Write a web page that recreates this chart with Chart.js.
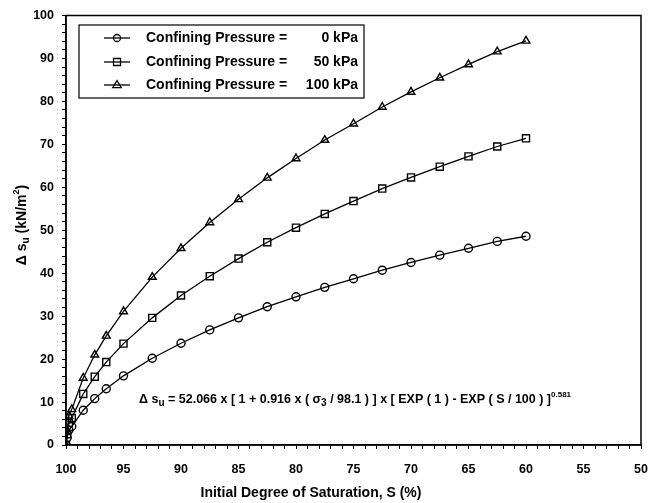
<!DOCTYPE html>
<html>
<head>
<meta charset="utf-8">
<script src="https://cdn.jsdelivr.net/npm/chart.js@4"></script>
<style>
  body { margin: 0; background: #fff; }
  #wrap { width: 662px; height: 503px; }
</style>
</head>
<body>
<div id="wrap"><canvas id="chart" width="662" height="503"></canvas></div>
<script>
// initial degree of saturation S (%)
var saturation = [100, 99.9, 99.75, 99.5, 98.5, 97.5, 96.5, 95, 92.5, 90, 87.5, 85, 82.5, 80, 77.5, 75, 72.5, 70, 67.5, 65, 62.5, 60];
// change in undrained shear strength (kN/m2)
var su0kPa = [0, 1.7, 3.5, 4.3, 8.1, 10.8, 13.1, 16.1, 20.2, 23.7, 26.8, 29.6, 32.2, 34.5, 36.7, 38.7, 40.7, 42.5, 44.2, 45.8, 47.4, 48.6];
var su50kPa = [0, 2.5, 5.1, 6.3, 11.9, 15.9, 19.3, 23.6, 29.6, 34.8, 39.3, 43.4, 47.2, 50.6, 53.8, 56.8, 59.7, 62.3, 64.8, 67.2, 69.5, 71.4];
var su100kPa = [0, 3.2, 6.8, 8.3, 15.6, 21.0, 25.4, 31.1, 39.1, 45.8, 51.8, 57.2, 62.2, 66.7, 71.0, 74.8, 78.7, 82.2, 85.5, 88.6, 91.6, 94.1];
var seriesNames = ['0 kPa', '50 kPa', '100 kPa'];
var markers = ['circle', 'rect', 'triangle'];

function pts(ys) {
    return saturation.map(function(s, i) { return {x: s, y: ys[i]}; });
}

var FONT = '"Liberation Sans", Arial, sans-serif';

function makeSet(label, ys, style, r) {
    return {
        label: label,
        data: pts(ys),
        borderColor: '#000',
        borderWidth: 1.3,
        pointStyle: style,
        pointRadius: r,
        pointBorderColor: '#000',
        pointBackgroundColor: 'rgba(0,0,0,0)',
        pointBorderWidth: 1.4,
        tension: 0,
        fill: false
    };
}

function drawMarker(ctx, style, x, y, r) {
    ctx.beginPath();
    if (style === 'circle') {
        ctx.arc(x, y, r, 0, Math.PI * 2);
    } else if (style === 'rect') {
        ctx.rect(x - r, y - r, r * 2, r * 2);
    } else {
        ctx.moveTo(x, y - r);
        ctx.lineTo(x + r * 0.95, y + r * 0.6);
        ctx.lineTo(x - r * 0.95, y + r * 0.6);
        ctx.closePath();
    }
    ctx.stroke();
}

function drawParts(ctx, parts, x, base) {
    parts.forEach(function(p) {
        ctx.font = 'bold ' + p[2] + 'px ' + FONT;
        ctx.fillText(p[0], x, base + p[1]);
        x += ctx.measureText(p[0]).width;
    });
}

var decor = {
    id: 'decor',
    afterDraw: function(chart) {
        var ctx = chart.ctx, a = chart.chartArea;
        ctx.save();
        // frame around plot
        ctx.strokeStyle = '#000';
        ctx.lineWidth = 1.5;
        ctx.strokeRect(a.left, a.top, a.right - a.left, a.bottom - a.top);

        // legend box
        ctx.lineWidth = 1.2;
        ctx.strokeRect(79, 25, 285, 73);
        var rows = [38, 62, 85];
        ctx.fillStyle = '#000';
        ctx.textBaseline = 'middle';
        for (var i = 0; i < 3; i++) {
            var y = rows[i];
            ctx.beginPath();
            ctx.moveTo(104, y);
            ctx.lineTo(130, y);
            ctx.lineWidth = 1.3;
            ctx.stroke();
            drawMarker(ctx, markers[i], 117, y, markers[i] === 'triangle' ? 4.5 : 3.5);
            ctx.font = 'bold 14px ' + FONT;
            ctx.textAlign = 'left';
            ctx.fillText('Confining Pressure =', 146, y);
            ctx.textAlign = 'right';
            ctx.fillText(seriesNames[i], 358, y);
        }

        ctx.textAlign = 'left';
        ctx.textBaseline = 'alphabetic';
        // fitted equation
        drawParts(ctx, [
            ['\u0394 s', 0, 12.5], ['u', 3, 10], [' = 52.066 x [ 1 + 0.916 x ( \u03c3', 0, 12.5], ['3', 3, 10],
            [' / 98.1 ) ] x [ EXP ( 1 ) - EXP ( S / 100 ) ]', 0, 12.5], ['0.581', -6, 8]
        ], 139, 403);

        // x axis title
        ctx.font = 'bold 14px ' + FONT;
        ctx.textAlign = 'center';
        ctx.fillText('Initial Degree of Saturation, S (%)', 311, 497);
        ctx.textAlign = 'left';

        // y axis title
        ctx.translate(21, 225);
        ctx.rotate(-Math.PI / 2);
        var yparts = [['\u0394 s', 0, 14], ['u', 3, 10], [' (kN/m', 0, 14], ['2', -7, 9], [')', 0, 14]];
        var total = 0;
        yparts.forEach(function(p) { ctx.font = 'bold ' + p[2] + 'px ' + FONT; total += ctx.measureText(p[0]).width; });
        drawParts(ctx, yparts, -total / 2, 5);
        ctx.restore();
    }
};

new Chart(document.getElementById('chart'), {
    type: 'line',
    data: {
        datasets: [
            makeSet('Confining Pressure = 0 kPa', su0kPa, 'circle', 4),
            makeSet('Confining Pressure = 50 kPa', su50kPa, 'rect', 5),
            makeSet('Confining Pressure = 100 kPa', su100kPa, 'triangle', 4.5)
        ]
    },
    plugins: [decor],
    options: {
        responsive: false,
        animation: false,
        layout: { padding: { left: 0, right: 21, top: 12, bottom: 0 } },
        plugins: { legend: { display: false }, tooltip: { enabled: false } },
        scales: {
            x: {
                type: 'linear',
                min: 50,
                max: 100,
                reverse: true,
                afterFit: function(s) { s.height = 58; },
                grid: { drawOnChartArea: false, tickLength: 4, color: '#000' },
                border: { color: '#000', width: 1.5 },
                ticks: {
                    stepSize: 1,
                    autoSkip: false,
                    maxRotation: 0,
                    padding: 13,
                    color: '#000',
                    font: { family: FONT, size: 12.5, weight: 'bold' },
                    callback: function(v) { return v % 5 === 0 ? v : ''; }
                }
            },
            y: {
                min: 0,
                max: 100,
                afterFit: function(s) { s.width = 66; },
                grid: { drawOnChartArea: false, tickLength: 4, color: '#000' },
                border: { color: '#000', width: 1.5 },
                ticks: {
                    stepSize: 2,
                    autoSkip: false,
                    padding: 8,
                    color: '#000',
                    font: { family: FONT, size: 12.5, weight: 'bold' },
                    callback: function(v) { return v % 10 === 0 ? v : ''; }
                }
            }
        }
    }
});
</script>
</body>
</html>
